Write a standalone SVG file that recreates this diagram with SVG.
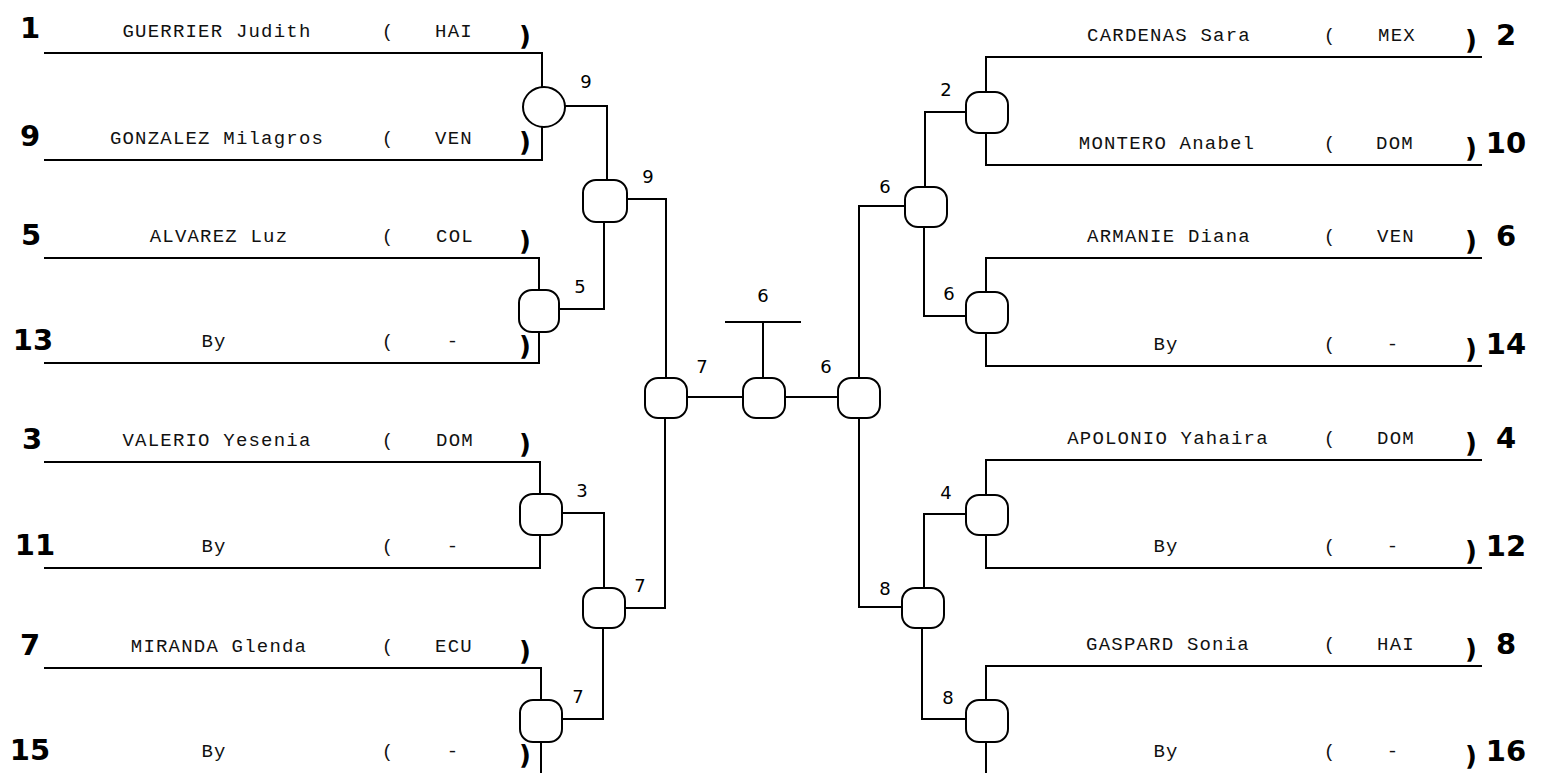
<svg xmlns="http://www.w3.org/2000/svg" width="1545" height="773" viewBox="0 0 1545 773">
<style>
.c{fill:none;stroke:#000;stroke-width:2}
.n{fill:#fff;stroke:#000;stroke-width:2}
.nm{font-family:"Liberation Mono","Courier New",monospace;font-size:19px;letter-spacing:1.2px;fill:#111;text-anchor:middle}
.sd{font-family:"DejaVu Sans",Verdana,sans-serif;font-size:29px;font-weight:bold;fill:#000;text-anchor:middle}
.pr{font-family:"DejaVu Sans",Verdana,sans-serif;font-size:26px;font-weight:bold;fill:#000;text-anchor:middle}
.lb{font-family:"DejaVu Sans",Verdana,sans-serif;font-size:18px;fill:#000;text-anchor:middle}
</style>
<rect width="1545" height="773" fill="#fff"/>
<g id="connectors">
<path class="c" d="M44,53H542V160H44"/>
<path class="c" d="M44,258H539V363H44"/>
<path class="c" d="M44,462H540V568H44"/>
<path class="c" d="M44,668H541V773"/>
<path class="c" d="M565,106H607V180"/>
<path class="c" d="M558,309H604V222"/>
<path class="c" d="M562,513H604V588"/>
<path class="c" d="M562,719H603V628"/>
<path class="c" d="M627,199H666V378"/>
<path class="c" d="M625,608H665V418"/>
<path class="c" d="M687,397H743"/>
<path class="c" d="M785,397H838"/>
<path class="c" d="M763,378V322M725,322H801"/>
<path class="c" d="M859,378V206H905"/>
<path class="c" d="M859,418V607H902"/>
<path class="c" d="M925,187V112H966"/>
<path class="c" d="M924,227V316H966"/>
<path class="c" d="M924,588V514H966"/>
<path class="c" d="M922,628V719H966"/>
<path class="c" d="M1482,57H986V165H1482"/>
<path class="c" d="M1482,258H986V366H1482"/>
<path class="c" d="M1482,460H986V568H1482"/>
<path class="c" d="M1482,666H986V773"/>
</g>
<g id="node-l1"><ellipse class="n" cx="544" cy="107" rx="21" ry="20"/><text class="lb" x="586" y="88">9</text></g>
<g id="node-l2"><rect class="n" x="519" y="290" width="40" height="42" rx="13"/><text class="lb" x="580" y="293">5</text></g>
<g id="node-l3"><rect class="n" x="520" y="494" width="42" height="41" rx="13"/><text class="lb" x="582" y="497">3</text></g>
<g id="node-l4"><rect class="n" x="520" y="700" width="42" height="42" rx="13"/><text class="lb" x="578" y="703">7</text></g>
<g id="node-lq1"><rect class="n" x="583" y="180" width="44" height="42" rx="13"/><text class="lb" x="648" y="183">9</text></g>
<g id="node-lq2"><rect class="n" x="583" y="588" width="42" height="40" rx="13"/><text class="lb" x="640" y="592">7</text></g>
<g id="node-sl"><rect class="n" x="645" y="378" width="42" height="40" rx="13"/><text class="lb" x="702" y="373">7</text></g>
<g id="node-final"><rect class="n" x="743" y="378" width="42" height="40" rx="13"/><text class="lb" x="763" y="302">6</text></g>
<g id="node-sr"><rect class="n" x="838" y="378" width="42" height="40" rx="13"/><text class="lb" x="826" y="373">6</text></g>
<g id="node-rq1"><rect class="n" x="905" y="187" width="42" height="40" rx="13"/><text class="lb" x="885" y="193">6</text></g>
<g id="node-rq2"><rect class="n" x="902" y="588" width="42" height="40" rx="13"/><text class="lb" x="885" y="595">8</text></g>
<g id="node-r1"><rect class="n" x="966" y="92" width="42" height="41" rx="13"/><text class="lb" x="946" y="96">2</text></g>
<g id="node-r2"><rect class="n" x="966" y="292" width="42" height="41" rx="13"/><text class="lb" x="949" y="300">6</text></g>
<g id="node-r3"><rect class="n" x="966" y="495" width="42" height="40" rx="13"/><text class="lb" x="946" y="499">4</text></g>
<g id="node-r4"><rect class="n" x="966" y="700" width="42" height="42" rx="13"/><text class="lb" x="948" y="704">8</text></g>
<g id="entry-1"><text class="sd" x="30" y="38">1</text><text class="nm" x="217" y="37">GUERRIER Judith</text><text class="nm" x="388" y="37">(</text><text class="nm" x="454" y="37">HAI</text><text class="pr" x="525" y="45">)</text></g>
<g id="entry-9"><text class="sd" x="30" y="146">9</text><text class="nm" x="217" y="144">GONZALEZ Milagros</text><text class="nm" x="388" y="144">(</text><text class="nm" x="454" y="144">VEN</text><text class="pr" x="525" y="151">)</text></g>
<g id="entry-5"><text class="sd" x="31" y="245">5</text><text class="nm" x="219" y="242">ALVAREZ Luz</text><text class="nm" x="388" y="242">(</text><text class="nm" x="455" y="242">COL</text><text class="pr" x="525" y="250">)</text></g>
<g id="entry-13"><text class="sd" x="33" y="350">13</text><text class="nm" x="214" y="347">By</text><text class="nm" x="388" y="347">(</text><text class="nm" x="453" y="347">-</text><text class="pr" x="525" y="355">)</text></g>
<g id="entry-3"><text class="sd" x="32" y="449">3</text><text class="nm" x="217" y="446">VALERIO Yesenia</text><text class="nm" x="388" y="446">(</text><text class="nm" x="455" y="446">DOM</text><text class="pr" x="525" y="453">)</text></g>
<g id="entry-11"><text class="sd" x="35" y="555">11</text><text class="nm" x="214" y="552">By</text><text class="nm" x="388" y="552">(</text><text class="nm" x="453" y="552">-</text></g>
<g id="entry-7"><text class="sd" x="30" y="655">7</text><text class="nm" x="219" y="652">MIRANDA Glenda</text><text class="nm" x="388" y="652">(</text><text class="nm" x="454" y="652">ECU</text><text class="pr" x="525" y="660">)</text></g>
<g id="entry-15"><text class="sd" x="30" y="760">15</text><text class="nm" x="214" y="757">By</text><text class="nm" x="388" y="757">(</text><text class="nm" x="453" y="757">-</text><text class="pr" x="525" y="764">)</text></g>
<g id="entry-2"><text class="nm" x="1169" y="41">CARDENAS Sara</text><text class="nm" x="1330" y="41">(</text><text class="nm" x="1397" y="41">MEX</text><text class="pr" x="1471" y="49">)</text><text class="sd" x="1506" y="45">2</text></g>
<g id="entry-10"><text class="nm" x="1167" y="149">MONTERO Anabel</text><text class="nm" x="1330" y="149">(</text><text class="nm" x="1395" y="149">DOM</text><text class="pr" x="1471" y="157">)</text><text class="sd" x="1506" y="153">10</text></g>
<g id="entry-6"><text class="nm" x="1169" y="242">ARMANIE Diana</text><text class="nm" x="1330" y="242">(</text><text class="nm" x="1396" y="242">VEN</text><text class="pr" x="1471" y="250">)</text><text class="sd" x="1506" y="246">6</text></g>
<g id="entry-14"><text class="nm" x="1166" y="350">By</text><text class="nm" x="1330" y="350">(</text><text class="nm" x="1393" y="350">-</text><text class="pr" x="1471" y="358">)</text><text class="sd" x="1506" y="354">14</text></g>
<g id="entry-4"><text class="nm" x="1168" y="444">APOLONIO Yahaira</text><text class="nm" x="1330" y="444">(</text><text class="nm" x="1396" y="444">DOM</text><text class="pr" x="1471" y="452">)</text><text class="sd" x="1506" y="448">4</text></g>
<g id="entry-12"><text class="nm" x="1166" y="552">By</text><text class="nm" x="1330" y="552">(</text><text class="nm" x="1393" y="552">-</text><text class="pr" x="1471" y="560">)</text><text class="sd" x="1506" y="556">12</text></g>
<g id="entry-8"><text class="nm" x="1168" y="650">GASPARD Sonia</text><text class="nm" x="1330" y="650">(</text><text class="nm" x="1396" y="650">HAI</text><text class="pr" x="1471" y="658">)</text><text class="sd" x="1506" y="654">8</text></g>
<g id="entry-16"><text class="nm" x="1166" y="757">By</text><text class="nm" x="1330" y="757">(</text><text class="nm" x="1393" y="757">-</text><text class="pr" x="1471" y="765">)</text><text class="sd" x="1506" y="761">16</text></g>
</svg>
